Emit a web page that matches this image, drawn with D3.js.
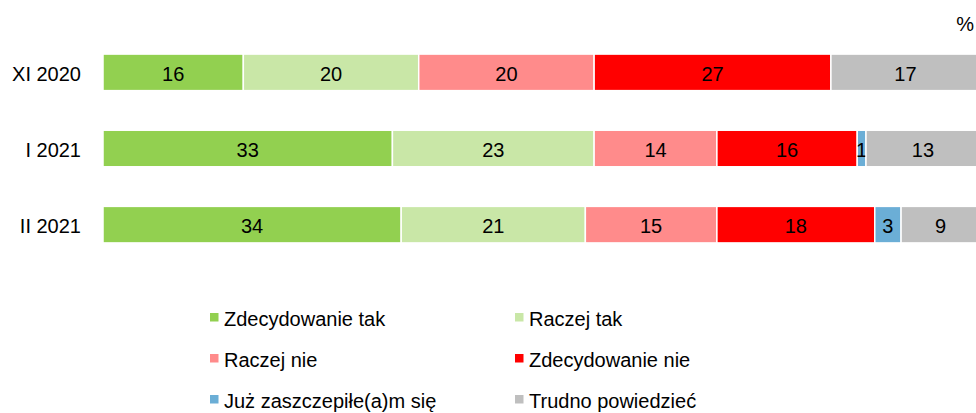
<!DOCTYPE html>
<html>
<head>
<meta charset="utf-8">
<script src="https://cdn.jsdelivr.net/npm/d3@7"></script>
<style>
  body { margin: 0; background: #fff; }
  text { font-family: "Liberation Sans", Arial, sans-serif; fill: #000; }
</style>
</head>
<body>
<svg id="chart" width="976" height="413"></svg>
<script>
// data
const periods = ['XI 2020', 'I 2021', 'II 2021']
const answers = ['Zdecydowanie tak', 'Raczej tak', 'Raczej nie', 'Zdecydowanie nie', 'Już zaszczepiłe(a)m się', 'Trudno powiedzieć']
const colors = ['#92d050', '#c9e7a7', '#ff8b8b', '#ff0000', '#6baed6', '#bfbfbf']
const valuesXI2020 = [16, 20, 20, 27, 0, 17]
const valuesI2021 = [33, 23, 14, 16, 1, 13]
const valuesII2021 = [34, 21, 15, 18, 3, 9]

const rows = [valuesXI2020, valuesI2021, valuesII2021]

const width = 976
const height = 413
const margin = { top: 16, left: 103, right: -4 }
const fontSize = '20px'

const svg = d3.select('#chart')

const x = d3.scaleLinear().domain([0, 100]).range([margin.left, width - margin.right])
const y = d3.scaleBand().domain(periods).range([margin.top, 281]).paddingInner(0.52).paddingOuter(0.5)

const color = d3.scaleOrdinal(answers, colors)

// stack
const table = periods.map((p, i) => {
  const o = { period: p }
  answers.forEach((a, j) => (o[a] = rows[i][j]))
  return o
})
const series = d3.stack().keys(answers)(table)

const viz = svg.append('g').attr('id', 'viz')

const groups = viz
  .selectAll('g.series')
  .data(series)
  .join('g')
  .attr('class', 'series')
  .attr('fill', (d) => color(d.key))

groups
  .selectAll('rect')
  .data((d) => d.filter((s) => s[1] - s[0] > 0))
  .join('rect')
  .attr('x', (d) => x(d[0]))
  .attr('y', (d) => y(d.data.period))
  .attr('width', (d) => x(d[1]) - x(d[0]))
  .attr('height', y.bandwidth())
  .attr('stroke', '#fff')
  .attr('stroke-width', 1.5)

groups
  .selectAll('text')
  .data((d) => d.filter((s) => s[1] - s[0] > 0))
  .join('text')
  .attr('x', (d) => (x(d[0]) + x(d[1])) / 2)
  .attr('y', (d) => y(d.data.period) + y.bandwidth() / 2)
  .attr('dy', '0.42em')
  .attr('text-anchor', 'middle')
  .style('font-size', fontSize)
  .text((d) => d[1] - d[0])

// category axis
const axis = svg
  .append('g')
  .attr('transform', `translate(${margin.left - 22},0)`)
  .call(d3.axisLeft(y).tickSize(0).tickPadding(0))
axis.select('.domain').remove()
axis.selectAll('text').style('font-size', fontSize).attr('dy', '0.42em')

// percent sign
svg
  .append('text')
  .attr('x', 974)
  .attr('y', 31)
  .attr('text-anchor', 'end')
  .style('font-size', fontSize)
  .text('%')

// legend
const legend = svg.append('g').attr('id', 'legend')
const legendItems = legend
  .selectAll('g')
  .data(answers)
  .join('g')
  .attr('transform', (d, i) => `translate(${i % 2 ? 515 : 210},${317 + Math.floor(i / 2) * 41})`)

legendItems
  .append('rect')
  .attr('x', 0)
  .attr('y', -4)
  .attr('width', 8.5)
  .attr('height', 8.5)
  .attr('fill', (d) => color(d))

legendItems
  .append('text')
  .attr('x', 14)
  .attr('dy', '0.45em')
  .style('font-size', fontSize)
  .text((d) => d)
</script>
</body>
</html>
